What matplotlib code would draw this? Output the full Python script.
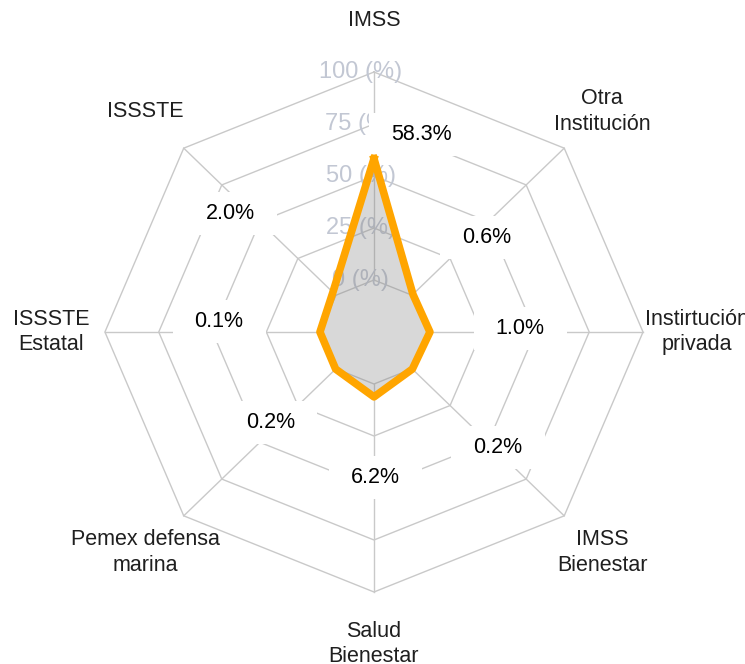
import numpy as np
import matplotlib.pyplot as plt
from matplotlib.patches import Rectangle

plt.rcParams['font.family'] = ['Liberation Sans', 'DejaVu Sans']

# Data (clockwise from the top)
categories = ["IMSS", "Otra\nInstitución", "Instirtución\nprivada", "IMSS\nBienestar",
              "Salud\nBienestar", "Pemex defensa\nmarina", "ISSSTE\nEstatal", "ISSSTE"]
values = [58.3, 0.6, 1.0, 0.2, 6.2, 0.2, 0.1, 2.0]
value_text = ["58.3%", "0.6%", "1.0%", "0.2%", "6.2%", "0.2%", "0.1%", "2.0%"]
axis_ticks = [0, 25, 50, 75, 100]

# where the value labels sit (radar units)
label_x = [0.175, 0.42, 0.543, 0.461, 0.004, -0.383, -0.576, -0.535]
label_y = [0.758, 0.365, 0.015, -0.446, -0.56, -0.35, 0.042, 0.454]

seg = len(axis_ticks) - 1
n = len(categories)
ang = np.deg2rad(90 - 360 / n * np.arange(n))
cx, cy = np.cos(ang), np.sin(ang)


def scale(v):
    # fmsb style: zero sits on the first ring, not at the centre
    return (1 + seg * np.asarray(v) / axis_ticks[-1]) / (seg + 1)


fig = plt.figure(figsize=(7.45, 6.64), dpi=100)
ax = fig.add_axes([0, 0, 1, 1])
ax.set_xlim(-1.390, 1.379)
ax.set_ylim(-1.277, 1.277)
ax.axis("off")

grid_col = "#c9c9c9"

# rings
for i, t in enumerate(axis_ticks):
    r = (i + 1) / (seg + 1)
    ax.plot(np.append(cx, cx[0]) * r, np.append(cy, cy[0]) * r,
            color=grid_col, lw=1.0, zorder=1)
    ax.text(-0.05, r, f"{t} (%)", ha="center", va="center",
            fontsize=17, color="#c2c7d3", zorder=2)

# spokes
r0 = 1 / (seg + 1)
for x, y in zip(cx, cy):
    ax.plot([x * r0, x], [y * r0, y], color=grid_col, lw=1.0, zorder=1)

# category labels
for x, y, lab in zip(cx, cy, categories):
    ax.text(1.2 * x, 1.2 * y, lab, ha="center", va="center",
            fontsize=15.5, color="#1f1f1f", linespacing=1.3)

# data polygon
r = scale(values)
px, py = cx * r, cy * r
ax.fill(px, py, color=(0.5, 0.5, 0.5, 0.3), lw=0, zorder=3)
ax.plot(np.append(px, px[0]), np.append(py, py[0]), color="#FFA500",
        lw=5.5, solid_joinstyle="round", zorder=6)

# value labels with white boxes
texts = []
for x, y, s in zip(label_x, label_y, value_text):
    texts.append(ax.text(x, y, s, ha="center", va="center",
                         fontsize=15.5, color="black", zorder=8))

fig.canvas.draw()
inv = ax.transData.inverted()
padx, pady = 22, 11
for t in texts:
    bb = t.get_window_extent()
    (x0, y0), (x1, y1) = inv.transform([[bb.x0 - padx, bb.y0 - pady],
                                         [bb.x1 + padx, bb.y1 + pady]])
    ax.add_patch(Rectangle((x0, y0), x1 - x0, y1 - y0, facecolor="white",
                           edgecolor="none", zorder=4))

fig.savefig("out.png", dpi=100)
